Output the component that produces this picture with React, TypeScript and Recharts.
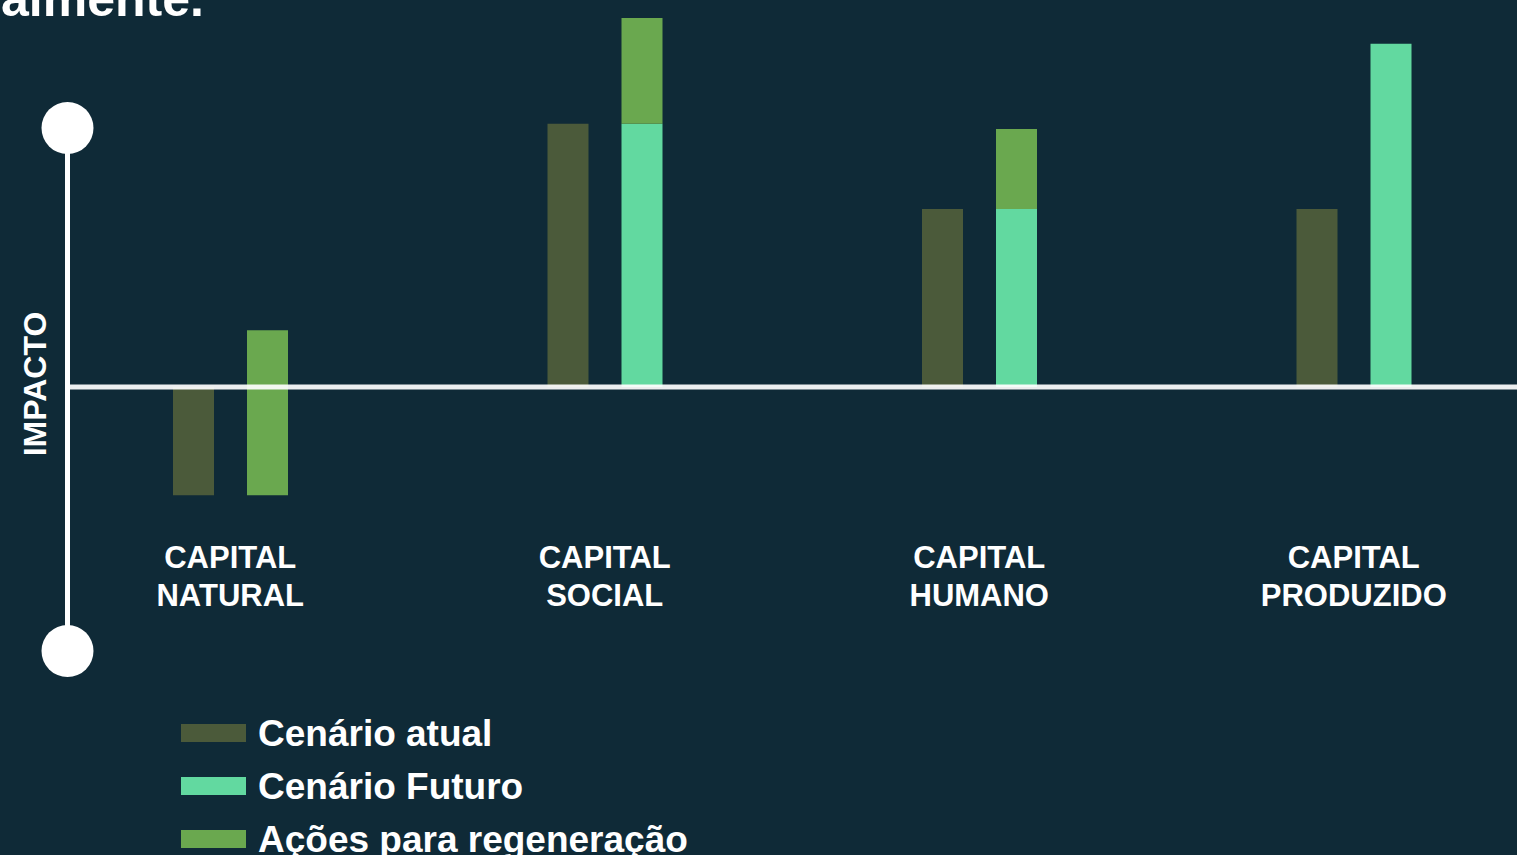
import { BarChart, Bar, XAxis, YAxis, ReferenceLine } from 'recharts'

const FONT = '"Liberation Sans", Arial, Helvetica, sans-serif'
const BG = '#0f2a37'
const COR_ATUAL = '#4b5a3a'
const COR_FUTURO = '#62d9a0'
const COR_ACOES = '#6aa84f'

// impact units: 100 = top marker of the axis
const categorias = ['CAPITAL NATURAL', 'CAPITAL SOCIAL', 'CAPITAL HUMANO', 'CAPITAL PRODUZIDO']
const cenarioAtual = [-42, 102, 69, 69]
const cenarioFuturo = [0, 102, 69, 133]
const acoesRegeneracao = [64, 41, 31, 0]
// where the regeneration bar starts (natural capital starts below zero)
const inicioAcoes = [-42, 0, 0, 0]

const legenda = [
  { label: 'Cenário atual', color: COR_ATUAL },
  { label: 'Cenário Futuro', color: COR_FUTURO },
  { label: 'Ações para regeneração', color: COR_ACOES },
]

const data = categorias.map((categoria, i) => ({
  categoria,
  atual: cenarioAtual[i],
  inicio: inicioAcoes[i],
  futuro: cenarioFuturo[i],
  acoes: acoesRegeneracao[i],
}))

function CategoriaTick({ x, y, payload }: any) {
  const [l1, ...rest] = String(payload.value).split(' ')
  return (
    <text x={x} y={y} textAnchor="middle" fill="#fff" fontSize={31} fontWeight={700} fontFamily={FONT}>
      <tspan x={x} dy={52}>{l1}</tspan>
      <tspan x={x} dy={38}>{rest.join(' ')}</tspan>
    </text>
  )
}

export default function App() {
  return (
    <div style={{ position: 'fixed', left: 0, top: 0, width: 1517, height: 855, background: BG, overflow: 'hidden' }}>
      <svg width={1517} height={855} style={{ position: 'absolute', left: 0, top: 0 }}>
        <text x={1} y={16} fill="#fff" fontSize={50} fontWeight={700} fontFamily={FONT}>almente.</text>
        <line x1={67.5} x2={67.5} y1={128} y2={651} stroke="#fff" strokeWidth={5} />
        <circle cx={67.5} cy={128} r={26} fill="#fff" />
        <circle cx={67.5} cy={651} r={26} fill="#fff" />
        <text
          x={46}
          y={384}
          transform="rotate(-90 46 384)"
          textAnchor="middle"
          fill="#fff"
          fontSize={32}
          fontWeight={700}
          fontFamily={FONT}
        >
          IMPACTO
        </text>
        {legenda.map((item, i) => (
          <g key={item.label}>
            <rect x={181} y={724 + i * 53} width={65} height={18} fill={item.color} />
            <text x={258} y={746 + i * 53} fill="#fff" fontSize={37} fontWeight={700} fontFamily={FONT}>
              {item.label}
            </text>
          </g>
        ))}
      </svg>
      <div style={{ position: 'absolute', left: 0, top: 0 }}>
        <BarChart
          width={1560}
          height={700}
          data={data}
          margin={{ top: 0, right: 19, left: 67, bottom: 124 }}
          barSize={41}
          barGap={33}
        >
          <XAxis
            dataKey="categoria"
            height={60}
            padding={{ left: -24, right: 0 }}
            axisLine={false}
            tickLine={false}
            tickSize={0}
            tickMargin={0}
            interval={0}
            tick={<CategoriaTick />}
          />
          <YAxis hide domain={[-50, 150]} />
          <Bar dataKey="atual" stackId="a" fill={COR_ATUAL} isAnimationActive={false} />
          <Bar dataKey="inicio" stackId="f" fill="transparent" legendType="none" isAnimationActive={false} />
          <Bar dataKey="futuro" stackId="f" fill={COR_FUTURO} isAnimationActive={false} />
          <Bar dataKey="acoes" stackId="f" fill={COR_ACOES} isAnimationActive={false} />
          <ReferenceLine y={0} stroke="#fff" strokeWidth={5} strokeOpacity={0.92} />
        </BarChart>
      </div>
    </div>
  )
}
